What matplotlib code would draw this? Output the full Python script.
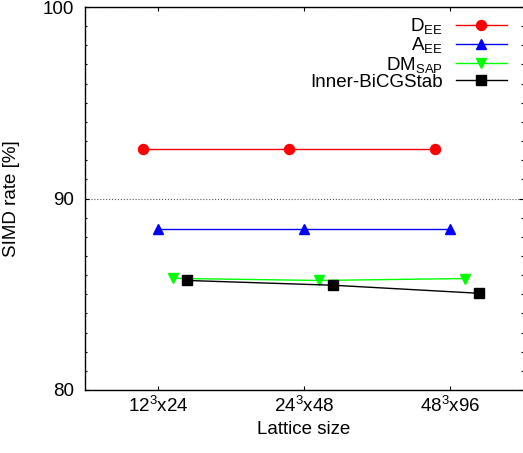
import matplotlib
matplotlib.use("Agg")
import matplotlib.pyplot as plt
import numpy as np

plt.rcParams["font.family"] = ["Liberation Sans", "DejaVu Sans"]
plt.rcParams["mathtext.fontset"] = "custom"
plt.rcParams["mathtext.rm"] = "Liberation Sans"
plt.rcParams["mathtext.it"] = "Liberation Sans:italic"
plt.rcParams["font.size"] = 13.5

lattice = ["12$^{3}$x24", "24$^{3}$x48", "48$^{3}$x96"]
d_ee = [92.6, 92.6, 92.6]
a_ee = [88.4, 88.4, 88.4]
dm_sap = [85.83, 85.72, 85.82]
inner_bicgstab = [85.72, 85.47, 85.05]

series = [
    ("D$_{\\mathrm{EE}}$", d_ee, "#ff0000", "o", 7.2, -0.1),
    ("A$_{\\mathrm{EE}}$", a_ee, "#0000ff", "^", 7.5, 0.0),
    ("DM$_{\\mathrm{SAP}}$", dm_sap, "#00ff00", "v", 7.5, 0.1),
    ("Inner-BiCGStab", inner_bicgstab, "#000000", "s", 6.5, 0.2),
]

fig = plt.figure(figsize=(5.23, 4.53), dpi=100)
ax = fig.add_axes([85 / 523, 63 / 453, 438 / 523, 383 / 453])

x = np.arange(1, len(lattice) + 1)
for label, vals, col, mk, ms, off in series:
    ax.plot(x + off, vals, color=col, marker=mk, markersize=ms,
            linewidth=1.0, label=label)

ax.set_xlim(0.5, 3.5)
ax.set_ylim(80, 100)
ax.set_xticks(x)
ax.set_xticklabels(lattice)
ax.set_yticks([80, 90, 100])
ax.set_yticks(np.arange(80, 101, 1), minor=True)
ax.yaxis.grid(True, which="major", linestyle=":", color="#555555", linewidth=0.8)
ax.tick_params(which="both", direction="in", top=True, right=True)
ax.tick_params(axis="x", which="minor", bottom=False, top=False)
ax.tick_params(which="major", length=3, width=0.8)
ax.tick_params(which="minor", length=1.6, width=0.8)
ax.tick_params(axis="y", pad=8)
ax.tick_params(axis="x", pad=4)
ax.spines["right"].set_visible(False)
for s in ["left", "top", "bottom"]:
    ax.spines[s].set_linewidth(1.0)

ax.set_xlabel("Lattice size", labelpad=4)
ax.set_ylabel("SIMD rate [%]", labelpad=16)

ax.legend(loc="upper right", markerfirst=False, frameon=False,
          handlelength=2.7, labelspacing=-0.05, borderaxespad=0.0,
          handletextpad=0.7, bbox_to_anchor=(0.98, 0.995))

fig.savefig("out.png", dpi=100)
